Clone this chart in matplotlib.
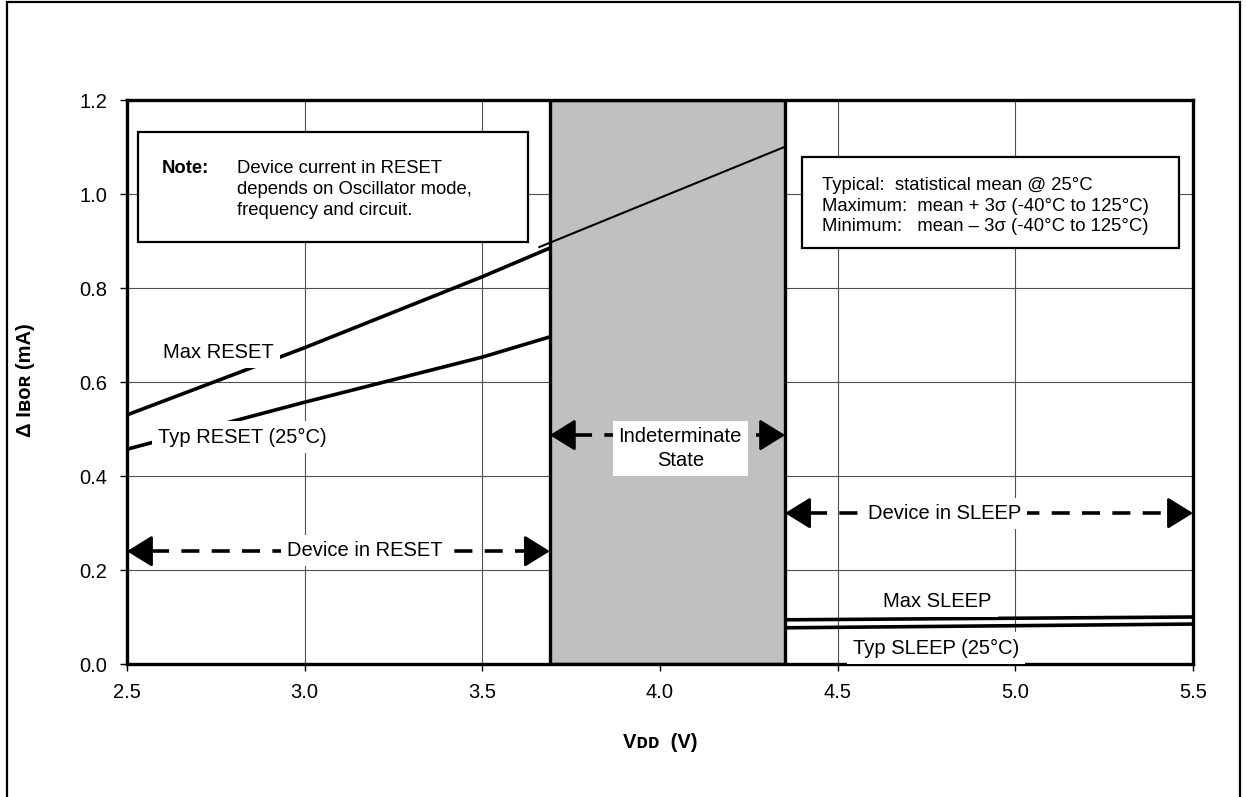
import matplotlib
matplotlib.use("Agg")
import matplotlib.pyplot as plt
from matplotlib.patches import Rectangle

# Data
vdd_reset = [2.5, 3.0, 3.5, 3.69]
max_reset = [0.530, 0.673, 0.824, 0.885]
typ_reset = [0.457, 0.557, 0.653, 0.696]
vdd_max_reset_ext = [3.66, 4.35]   # thin continuation across the indeterminate band
max_reset_ext = [0.887, 1.100]
vdd_sleep = [4.35, 5.5]
max_sleep = [0.094, 0.100]
typ_sleep = [0.077, 0.085]

indeterminate = (3.69, 4.352)
x_ticks = [2.5, 3.0, 3.5, 4.0, 4.5, 5.0, 5.5]
y_ticks = [0.0, 0.2, 0.4, 0.6, 0.8, 1.0, 1.2]

plt.rcParams['font.family'] = ['Liberation Sans', 'DejaVu Sans']

fig = plt.figure(figsize=(12.46, 7.97), dpi=100)
ax = fig.add_axes([127 / 1246, 1 - 664 / 797, 1066 / 1246, 564 / 797])

# outer frame
fig.patches.append(Rectangle((7 / 1246, -0.01), 1233 / 1246, 1.01 - 2 / 797,
                             transform=fig.transFigure, fill=False,
                             edgecolor='black', lw=1.6))

ax.set_xlim(2.5, 5.5)
ax.set_ylim(0, 1.2)
ax.set_xticks(x_ticks)
ax.set_yticks(y_ticks)
ax.set_xticklabels([f"{v:.1f}" for v in x_ticks])
ax.set_yticklabels([f"{v:.1f}" for v in y_ticks])
ax.tick_params(direction='out', length=5, width=1, labelsize=14.5, pad=9)
ax.set_axisbelow(True)
ax.grid(True, color='#505050', lw=0.8)
for s in ax.spines.values():
    s.set_linewidth(2.4)

ax.axvspan(*indeterminate, facecolor='#C0C0C0', edgecolor='black', lw=2.4, zorder=1)

# curves
ax.plot(vdd_reset, max_reset, color='black', lw=2.6, solid_capstyle='butt')
ax.plot(vdd_reset, typ_reset, color='black', lw=2.6, solid_capstyle='butt')
ax.plot(vdd_max_reset_ext, max_reset_ext, color='black', lw=1.5)
ax.plot(vdd_sleep, max_sleep, color='black', lw=2.6, solid_capstyle='butt')
ax.plot(vdd_sleep, typ_sleep, color='black', lw=2.6, solid_capstyle='butt')

lbl = dict(fontsize=14.5, zorder=4, va='center',
           bbox=dict(boxstyle='square,pad=0.3', facecolor='white', edgecolor='none'))
ax.text(2.601, 0.662, "Max RESET", ha='left', **lbl)
ax.text(2.587, 0.483, "Typ RESET (25°C)", ha='left', **lbl)
ax.text(4.628, 0.134, "Max SLEEP", ha='left', **lbl)
ax.text(4.543, 0.034, "Typ SLEEP (25°C)", ha='left', **lbl)


def span_arrow(x0, x1, y, label, lx, ly):
    head = 0.068
    ax.plot([x0 + head, x1 - head], [y, y], color='black', lw=2.6,
            dashes=(5.0, 3.4), zorder=2.2)
    for tip, tail in ((x0, x0 + head), (x1, x1 - head)):
        ax.annotate('', xy=(tip, y), xytext=(tail, y),
                    arrowprops=dict(arrowstyle='-|>,head_length=1.05,head_width=0.65',
                                    lw=2.0, color='black', shrinkA=0, shrinkB=0,
                                    mutation_scale=15), zorder=2.3)
    ax.text(lx, ly, label, ha='center', va='center', fontsize=14.5, zorder=4,
            linespacing=1.3,
            bbox=dict(boxstyle='square,pad=0.3', facecolor='white', edgecolor='none'))


span_arrow(2.5, indeterminate[0], 0.240, "Device in RESET", 3.17, 0.242)
span_arrow(indeterminate[1], 5.5, 0.321, "Device in SLEEP", 4.80, 0.321)
span_arrow(indeterminate[0], indeterminate[1], 0.487, "Indeterminate\nState", 4.057, 0.458)

# note box
ax.add_patch(Rectangle((0.0103, 0.748), 0.3659, 0.195, transform=ax.transAxes,
                       facecolor='white', edgecolor='black', lw=1.6, zorder=3))
ax.text(0.0328, 0.879, "Note:", transform=ax.transAxes, fontsize=13.3,
        fontweight='bold', va='center', ha='left', zorder=4)
ax.text(0.1032, 0.841, "Device current in RESET\ndepends on Oscillator mode,\nfrequency and circuit.",
        transform=ax.transAxes, fontsize=13.3, va='center', ha='left',
        linespacing=1.3, zorder=4)

# statistics box
ax.add_patch(Rectangle((0.633, 0.7376), 0.354, 0.1614, transform=ax.transAxes,
                       facecolor='white', edgecolor='black', lw=1.6, zorder=3))
ax.text(0.652, 0.812,
        "Typical:  statistical mean @ 25°C\n"
        "Maximum:  mean + 3\u03c3 (-40°C to 125°C)\n"
        "Minimum:   mean \u2013 3\u03c3 (-40°C to 125°C)",
        transform=ax.transAxes, fontsize=13.3, va='center', ha='left',
        linespacing=1.3, zorder=4)

ax.set_xlabel("V\u1d05\u1d05  (V)", fontsize=14.5, fontweight='bold')
ax.xaxis.set_label_coords(0.5, -0.122)
ax.set_ylabel("\u0394 I\u0299\u1d0f\u0280 (mA)", fontsize=14.5, fontweight='bold')
ax.yaxis.set_label_coords(-0.086, 0.504)

fig.savefig("out.png", dpi=100)
